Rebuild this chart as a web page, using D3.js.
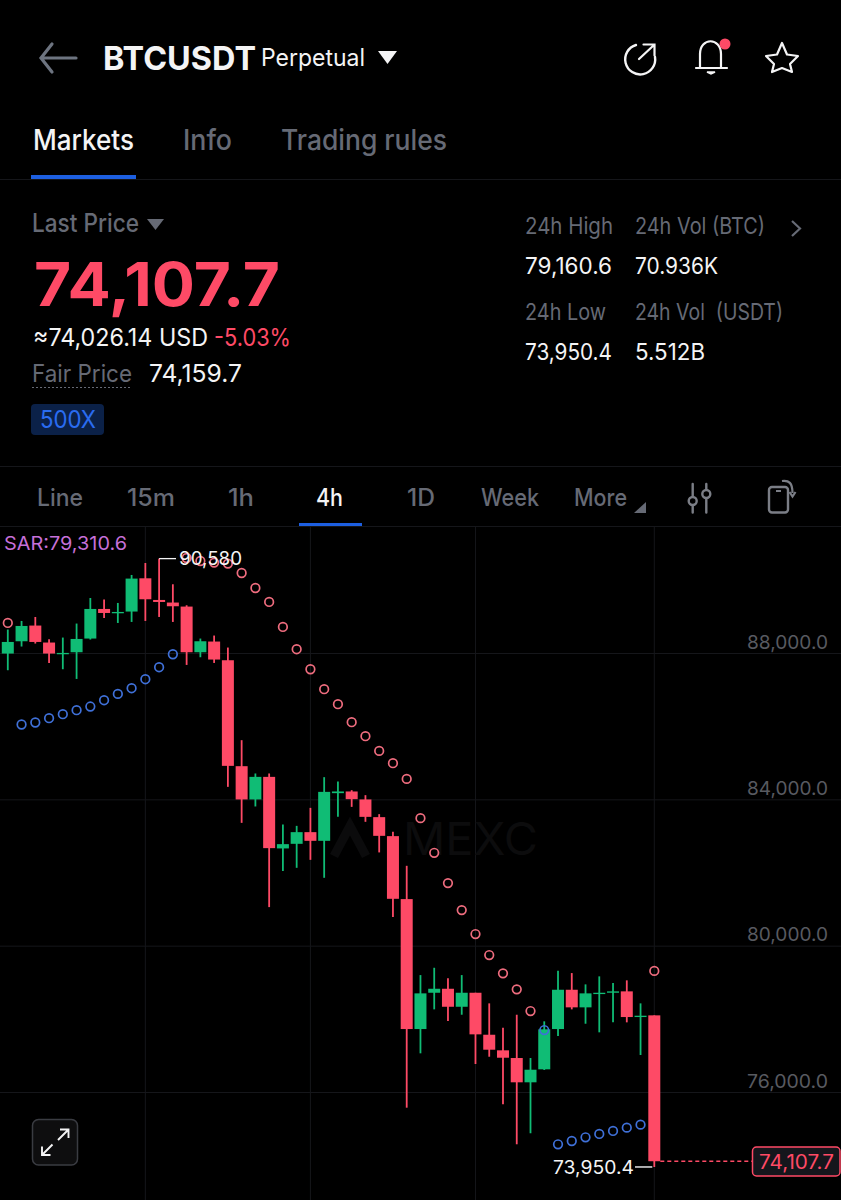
<!DOCTYPE html>
<html><head><meta charset="utf-8">
<script src="https://cdn.jsdelivr.net/npm/d3@7/dist/d3.min.js"></script>
<style>html,body{margin:0;padding:0;background:#000;overflow:hidden}svg{display:block}text{font-family:Inter,Roboto,sans-serif}</style>
</head><body><svg id="c" width="841" height="1200"></svg>
<script>
const opens=[87985,88321,88750,88286,87966,88021,88395,89204,89086,89133,90042,89450,89379,89269,88021,88313,87802,84906,83997,84614,82658,82784,83103,82866,84169,84215,83997,83513,82994,81273,77721,78713,78822,78330,78713,77565,77139,76929,76265,76620,77721,78795,78314,78677,78713,78751,78049,78095];
const closes=[88302,88739,88302,87985,88002,88384,89204,89094,89122,90034,89469,89395,89278,88021,88321,87821,84915,83997,84614,82666,82775,83103,82866,84204,84215,84005,83521,83002,81281,77721,78696,78822,78330,78713,77576,77156,76937,76265,76609,77713,78795,78314,78696,78713,78751,78049,78085,74107.7];
const highs=[88641,88876,88985,88376,88422,88805,89504,89460,89368,90133,90460,90580,89879,89305,88395,88477,88149,85617,84707,84707,83314,83275,83767,84606,84488,84251,84114,83595,83111,82183,79196,79396,79106,79196,78713,78423,77757,78112,76929,77932,79314,79251,78942,79161,78978,79052,78423,78095];
const lows=[87529,88177,88258,87728,87556,87291,88368,88958,88821,88849,88876,88985,88849,87674,87884,87728,84341,83357,83805,81054,82038,82128,82346,81855,83521,83794,83385,82549,80781,75571,77057,78259,77940,78112,76765,76964,75664,74571,74872,76601,77530,78259,77866,77631,77904,77904,77011,73950.4];
const sarBearIdx=[0,13,14,15,16,17,18,19,20,21,22,23,24,25,26,27,28,29,30,31,32,33,34,35,36,37,38,47];
const sarBear=[88821,90597,90515,90471,90444,90187,89777,89395,88712,88103,87556,87010,86600,86108,85726,85324,84988,84559,83486,82538,81710,80972,80317,79743,79243,78806,78213,79310.6];
const sarBullIdx=[1,2,3,4,5,6,7,8,9,10,11,12,39,40,41,42,43,44,45,46];
const sarBull=[86046,86100,86218,86327,86436,86537,86709,86882,87037,87283,87611,87966,77694,74571,74661,74762,74853,74935,75025,75107];
const priceTicks=[88000,84000,80000,76000];
const gridIdx=[10,22,34,47];
const tabs=["Line","15m","1h","4h","1D","Week","More"];
const tabX=[37,127,228,316,407,481,574];
const tabW=[46,48,26,27,28,58,53];

const RED="#fe4a66",GREEN="#10bc75",GREY="#666a75",WHITE="#f4f4f5",BLUE="#1d5fe0",LINE="#15161a";
const svg=d3.select("#c");
const x=d3.scaleLinear().domain([0,47]).range([7.8,654.3]);
const y=d3.scaleLinear().domain([76000,88000]).range([1092,653]);
const T=(t,px,py,size,fill,w,weight)=>{const s=svg.append("text").attr("x",px).attr("y",py).attr("font-size",size).attr("fill",fill).attr("font-weight",weight||400).text(t);if(w)s.attr("textLength",w).attr("lengthAdjust","spacingAndGlyphs");return s;};
const P=(d,attrs)=>{const s=svg.append("path").attr("d",d).attr("fill","none");Object.entries(attrs).forEach(([k,v])=>s.attr(k,v));return s;};
// header
P("M76 58H42M52 44L41 58L52 72",{stroke:"#6d7480","stroke-width":3.2,"stroke-linecap":"round"});
T("BTCUSDT",103,70,33,WHITE,153,700);
T("Perpetual",261,66,24,WHITE,104);
P("M378 51H397L387.5 64Z",{fill:WHITE});
P("M655 57A15 15 0 1 1 636 45",{stroke:WHITE,"stroke-width":2.4,"stroke-linecap":"round"});
P("M639 59L654 45M643.5 44.5H654.5V55.5",{stroke:WHITE,"stroke-width":2.2,"stroke-linecap":"round"});
P("M700 67V54C700 37 721 37 721 54V67M696 68H727",{stroke:WHITE,"stroke-width":2.2,"stroke-linecap":"round"});
P("M707 72H715L711 74Z",{fill:WHITE,stroke:WHITE,"stroke-width":1.5});
svg.append("circle").attr("cx",725).attr("cy",44).attr("r",5.5).attr("fill",RED);
P("M782 43L787 54.5L798 56L790 64L792 72L782 68L772 72L774 64L766 56L777 54.5Z",{stroke:WHITE,"stroke-width":2.2,"stroke-linejoin":"round"});
T("Markets",33,150,28,WHITE,101,500);
T("Info",183,150,28,GREY,49,500);
T("Trading rules",281,150,28,GREY,166,500);
svg.append("rect").attr("x",31).attr("y",175).attr("width",105).attr("height",4).attr("fill",BLUE);
svg.append("rect").attr("x",0).attr("y",179).attr("width",841).attr("height",1).attr("fill",LINE);
// price panel
T("Last Price",32,232,25,GREY,107,500);
P("M147 219H164L155.5 230Z",{fill:GREY});
T("74,107.7",34,306,60,RED,246,700);
T("≈74,026.14 USD",33,346,24,WHITE,175);
T("-5.03%",214,346,24,RED,77);
T("Fair Price",32,382,24,GREY,100);
P("M32 387.5H132",{stroke:GREY,"stroke-width":1,"stroke-dasharray":"2 2"});
T("74,159.7",149,382,24,WHITE,93);
svg.append("rect").attr("x",31).attr("y",404).attr("width",73).attr("height",31).attr("rx",4).attr("fill","#0b2148");
T("500X",40,428,24,"#2a6cf0",56);
T("24h High",525,234,23,GREY,88);
T("24h Vol (BTC)",635,234,23,GREY,130);
P("M792 221L800 228.5L792 236",{stroke:GREY,"stroke-width":2.2});
T("79,160.6",525,274,23,WHITE,87);
T("70.936K",635,274,23,WHITE,83);
T("24h Low",525,320,23,GREY,81);
T("24h Vol  (USDT)",635,320,23,GREY,148).attr("xml:space","preserve");
T("73,950.4",525,360,23,WHITE,87);
T("5.512B",635,360,23,WHITE,70);
// tabs
svg.append("rect").attr("x",0).attr("y",466).attr("width",841).attr("height",1).attr("fill",LINE);
svg.selectAll("text.tab").data(tabs).join("text").attr("class","tab")
 .attr("x",(d,i)=>tabX[i]).attr("y",506).attr("font-size",24).attr("font-weight",500)
 .attr("fill",d=>d==="4h"?WHITE:GREY).attr("textLength",(d,i)=>tabW[i]).attr("lengthAdjust","spacingAndGlyphs").text(d=>d);
P("M646 502V513H634Z",{fill:GREY});
svg.append("rect").attr("x",299).attr("y",523).attr("width",63).attr("height",4).attr("fill",BLUE);
svg.append("rect").attr("x",0).attr("y",526).attr("width",841).attr("height",1).attr("fill",LINE);
const ICON="#7b7e86";
P("M692.7 484V496M692.7 506V512.5M706.3 484V489M706.3 499V512.5",{stroke:ICON,"stroke-width":2.4,"stroke-linecap":"round"});
svg.append("circle").attr("cx",692.7).attr("cy",501).attr("r",4).attr("fill","none").attr("stroke",ICON).attr("stroke-width",2.4);
svg.append("circle").attr("cx",706.3).attr("cy",494).attr("r",4).attr("fill","none").attr("stroke",ICON).attr("stroke-width",2.4);
svg.append("rect").attr("x",769).attr("y",487).attr("width",19).attr("height",25.5).attr("rx",3).attr("fill","none").attr("stroke",ICON).attr("stroke-width",2.4);
P("M776 491H781M782 481C789 480 792.5 483 792.5 493M789.5 492L792.5 496.5L795.5 492",{stroke:ICON,"stroke-width":2.2});
// grid and axis
svg.append("g").selectAll("line").data(gridIdx).join("line")
 .attr("x1",d=>x(d)).attr("x2",d=>x(d)).attr("y1",527).attr("y2",1200).attr("stroke",LINE).attr("stroke-width",1);
const axis=d3.axisRight(y).tickValues(priceTicks).tickSize(841).tickPadding(-94).tickFormat(d3.format(",.1f"));
const ax=svg.append("g").call(axis);
ax.select(".domain").remove();
ax.selectAll("line").attr("stroke",LINE);
ax.selectAll("text").attr("fill","#585a60").attr("font-size",19).attr("dy",-5).attr("text-anchor","start").attr("textLength",81).attr("lengthAdjust","spacingAndGlyphs");
// watermark
P("M334 856L350 826L366 856",{stroke:"#0b0b0c","stroke-width":9});
T("MEXC",403,855,45,"#0c0c0d",135,400);
// candles
const idx=d3.range(opens.length);
const col=i=>closes[i]>=opens[i]?GREEN:RED;
svg.append("g").selectAll("line").data(idx).join("line")
 .attr("x1",i=>x(i)).attr("x2",i=>x(i)).attr("y1",i=>y(highs[i])).attr("y2",i=>y(lows[i])).attr("stroke",col).attr("stroke-width",1.8);
svg.append("g").selectAll("rect").data(idx).join("rect")
 .attr("x",i=>x(i)-6).attr("width",12).attr("y",i=>y(Math.max(opens[i],closes[i])))
 .attr("height",i=>Math.abs(y(opens[i])-y(closes[i]))).attr("fill",col);
// SAR
const dots=(ids,vals,c)=>svg.append("g").selectAll("circle").data(ids).join("circle")
 .attr("cx",i=>x(i)).attr("cy",(i,k)=>y(vals[k])).attr("r",4.3).attr("fill","none").attr("stroke",c).attr("stroke-width",1.7);
dots(sarBearIdx,sarBear,"#ee6c7e");
dots(sarBullIdx,sarBull,"#3f70d8");
T("SAR:79,310.6",4,550,19,"#c670d8",123);
// extremes
P(`M${x(11)} ${y(90580)}H176`,{stroke:WHITE,"stroke-width":1.3});
T("90,580",179,565,19,WHITE,63);
T("73,950.4",553,1174,19,WHITE,81);
P(`M635 ${y(73950.4)}H${x(47)-2}`,{stroke:WHITE,"stroke-width":1.4});
P(`M${x(47)+6} ${y(74107.7)}H752`,{stroke:RED,"stroke-width":1.6,"stroke-dasharray":"4 3"});
svg.append("rect").attr("x",752.5).attr("y",1147).attr("width",87.5).attr("height",29).attr("rx",4).attr("fill","#15161c").attr("stroke",RED).attr("stroke-width",1.5);
T("74,107.7",759,1169,19.5,RED,75);
// expand button
svg.append("rect").attr("x",32.5).attr("y",1119.5).attr("width",45).attr("height",45.5).attr("rx",6).attr("fill","#0e0e0f").attr("stroke","#3a3c42").attr("stroke-width",1.5);
P("M60 1129.5H68.5V1138M68.5 1129.5L58 1140M42 1146.5V1155H50.5M42 1155L52.5 1144.5",{stroke:WHITE,"stroke-width":1.9});
</script></body></html>
